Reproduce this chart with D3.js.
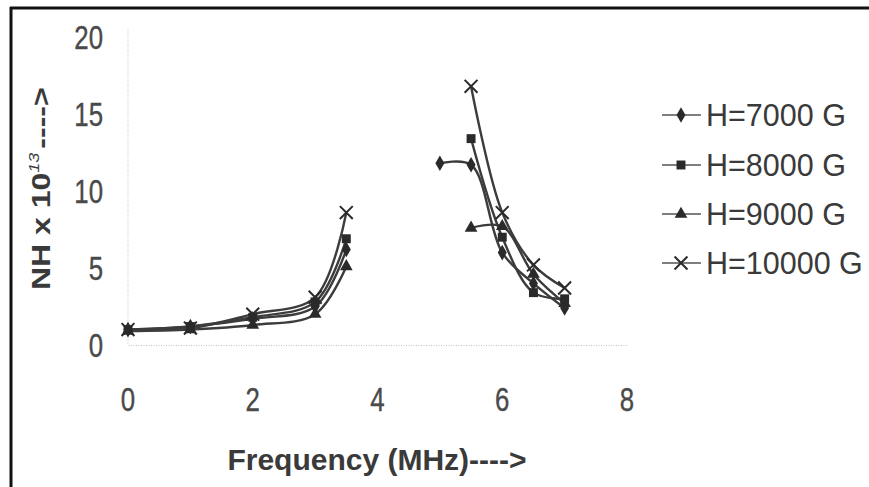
<!DOCTYPE html>
<html>
<head>
<meta charset="utf-8">
<script src="https://cdn.jsdelivr.net/npm/d3@7"></script>
<style>
  html, body { margin: 0; padding: 0; background: #fff; }
  svg { display: block; }
</style>
</head>
<body>
<svg id="chart" width="869" height="487"></svg>
<script>
// ---- data ----
const freqLow  = [0, 1, 2, 3, 3.5];
const freqHigh = [5, 5.5, 6, 6.5, 7];
const seriesNames = ["H=7000 G", "H=8000 G", "H=9000 G", "H=10000 G"];
const h7000Low   = [1.0, 1.2, 1.7, 2.5, 6.2];
const h7000High  = [11.8, 11.7, 6.0, 4.0, 2.4];
const h8000Low   = [1.0, 1.2, 1.8, 2.8, 6.9];
const h8000High  = [null, 13.4, 7.0, 3.4, 3.0];
const h9000Low   = [0.9, 1.0, 1.3, 2.0, 5.1];
const h9000High  = [null, 7.6, 7.7, 4.6, 2.7];
const h10000Low  = [1.0, 1.1, 2.0, 3.1, 8.6];
const h10000High = [null, 16.8, 8.6, 5.2, 3.7];
const markerTypes = ["diamond", "square", "triangle", "cross"];
const xTicks = [0, 2, 4, 6, 8];
const yTicks = [0, 5, 10, 15, 20];
const xTitle = "Frequency (MHz)---->";

const allSeries = [
  [h7000Low, h7000High],
  [h8000Low, h8000High],
  [h9000Low, h9000High],
  [h10000Low, h10000High]
];

const svg = d3.select("#chart");

// frame lines (scanned page border)
svg.append("line").attr("x1", 10).attr("x2", 869).attr("y1", 8).attr("y2", 8)
  .attr("stroke", "#111").attr("stroke-width", 3);
svg.append("line").attr("x1", 11).attr("x2", 11).attr("y1", 7).attr("y2", 487)
  .attr("stroke", "#111").attr("stroke-width", 3);

const x = d3.scaleLinear().domain([0, 8]).range([128, 627]);
const y = d3.scaleLinear().domain([0, 20]).range([345, 37]);

// axes (dotted light lines, no tick marks)
const axisColor = "#c9c1b2";
const xAxis = svg.append("g").attr("transform", `translate(0,${y(0)})`)
  .call(d3.axisBottom(x).tickValues(xTicks).tickSize(0).tickFormat(""));
xAxis.select(".domain").attr("stroke", axisColor).attr("stroke-dasharray", "1,1.5");
const yAxis = svg.append("g").attr("transform", `translate(${x(0)},0)`)
  .call(d3.axisLeft(y).tickValues(yTicks).tickSize(0).tickFormat(""));
yAxis.select(".domain").attr("stroke", axisColor).attr("stroke-dasharray", "1,1.5")
  .attr("d", `M0,${y(20) - 7}V${y(0)}`);

const labelFont = "'Liberation Sans', Arial, sans-serif";
const tickColor = "#4a4a4a";

// tick labels
xTicks.forEach(t => {
  svg.append("text")
    .attr("transform", `translate(${x(t)},${411}) scale(0.76,1)`)
    .attr("text-anchor", "middle")
    .attr("font-family", labelFont).attr("font-size", 34)
    .attr("fill", tickColor).attr("stroke", tickColor).attr("stroke-width", 0.4)
    .text(t);
});
yTicks.forEach(t => {
  svg.append("text")
    .attr("transform", `translate(${103},${y(t) + 12}) scale(0.76,1)`)
    .attr("text-anchor", "end")
    .attr("font-family", labelFont).attr("font-size", 34)
    .attr("fill", tickColor).attr("stroke", tickColor).attr("stroke-width", 0.4)
    .text(t);
});

// axis titles
svg.append("text")
  .attr("x", 377).attr("y", 470)
  .attr("text-anchor", "middle")
  .attr("font-family", labelFont).attr("font-size", 30).attr("font-weight", "bold")
  .attr("fill", "#3a3a3a").text(xTitle);

const yt = svg.append("text")
  .attr("transform", "translate(50,290) rotate(-90) scale(1,0.8)")
  .attr("font-family", labelFont).attr("font-size", 32).attr("font-weight", "bold")
  .attr("fill", "#3a3a3a");
yt.append("tspan").text("NH x 10");
yt.append("tspan").attr("dy", -14).attr("font-size", 18).attr("font-style", "italic")
  .attr("font-weight", "normal").text("13");
yt.append("tspan").attr("dy", 14).attr("dx", 4).text("---->");

// lines
const lineColor = "#3c3c3c";
const line = d3.line()
  .defined(d => d[1] !== null)
  .x(d => x(d[0])).y(d => y(d[1]))
  .curve(d3.curveCatmullRom.alpha(0.5));

const markerSym = {
  diamond: d3.symbol().type(d3.symbolDiamond).size(70),
  square: d3.symbol().type(d3.symbolSquare).size(80),
  triangle: d3.symbol().type(d3.symbolTriangle).size(70),
  cross: d3.symbol().type(d3.symbolX).size(110)
};

function drawMarker(g, type, cx, cy) {
  const p = g.append("path").attr("d", markerSym[type]())
    .attr("transform", `translate(${cx},${cy})`);
  if (type === "cross") p.attr("fill", "none").attr("stroke", "#2a2a2a").attr("stroke-width", 2);
  else p.attr("fill", "#2a2a2a");
}

const segFreqs = [freqLow, freqHigh];
allSeries.forEach((segs) => {
  segs.forEach((vals, s) => {
    const pts = segFreqs[s].map((f, j) => [f, vals[j]]);
    svg.append("path").datum(pts)
      .attr("d", line).attr("fill", "none")
      .attr("stroke", lineColor).attr("stroke-width", 2.4);
  });
});
allSeries.forEach((segs, i) => {
  const g = svg.append("g");
  segs.forEach((vals, s) => {
    segFreqs[s].forEach((f, j) => {
      if (vals[j] !== null) drawMarker(g, markerTypes[i], x(f), y(vals[j]));
    });
  });
});

// legend
const legendY = [115, 165, 214, 263];
seriesNames.forEach((name, i) => {
  const g = svg.append("g").attr("transform", `translate(0,${legendY[i]})`);
  g.append("line").attr("x1", 662).attr("x2", 701).attr("y1", 0).attr("y2", 0)
    .attr("stroke", "#555").attr("stroke-width", 1.5);
  drawMarker(g, markerTypes[i], 681, 0);
  g.append("text").attr("x", 706).attr("y", 11)
    .attr("font-family", labelFont).attr("font-size", 30.5)
    .attr("fill", "#3a3a3a").text(name);
});
</script>
</body>
</html>
